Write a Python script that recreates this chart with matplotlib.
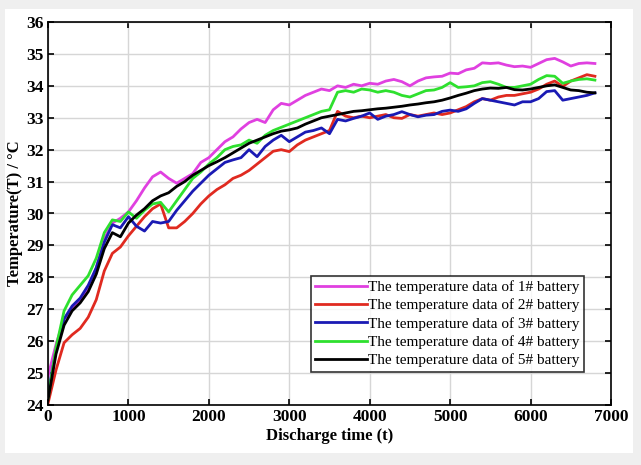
import matplotlib
matplotlib.use("Agg")
import matplotlib.pyplot as plt
from matplotlib.patches import FancyBboxPatch

time_s = list(range(0, 6900, 100))

temp_1 = [24.9, 25.9, 26.7, 27.0, 27.3, 27.6, 28.3, 29.2, 29.7, 29.85,
          30.05, 30.4, 30.8, 31.15, 31.3, 31.1, 30.95, 31.1, 31.25, 31.6,
          31.75, 32.0, 32.25, 32.4, 32.65, 32.85, 32.95, 32.85, 33.25, 33.45,
          33.4, 33.55, 33.7, 33.8, 33.9, 33.85, 34.0, 33.95, 34.05, 34.0,
          34.08, 34.05, 34.15, 34.2, 34.13, 34.0, 34.15, 34.25, 34.28, 34.3,
          34.4, 34.38, 34.5, 34.55, 34.72, 34.7, 34.72, 34.65, 34.6, 34.62,
          34.58, 34.7, 34.82, 34.86, 34.75, 34.62, 34.7, 34.72, 34.7]

temp_2 = [24.05, 25.1, 25.95, 26.2, 26.4, 26.75, 27.3, 28.2, 28.75, 28.95,
          29.3, 29.6, 29.9, 30.15, 30.3, 29.55, 29.55, 29.75, 30.0, 30.3,
          30.55, 30.75, 30.9, 31.1, 31.2, 31.35, 31.55, 31.75, 31.95, 32.0,
          31.94, 32.15, 32.3, 32.4, 32.5, 32.6, 33.2, 33.05, 33.0, 33.05,
          33.0, 33.05, 33.1, 33.0, 32.98, 33.1, 33.05, 33.1, 33.15, 33.1,
          33.15, 33.25, 33.35, 33.5, 33.6, 33.55, 33.65, 33.7, 33.7, 33.75,
          33.8, 33.9, 34.05, 34.15, 33.98, 34.15, 34.25, 34.35, 34.3]

temp_3 = [24.38, 25.7, 26.7, 27.1, 27.35, 27.75, 28.3, 29.1, 29.65, 29.55,
          29.9, 29.6, 29.45, 29.75, 29.7, 29.75, 30.1, 30.4, 30.7, 30.95,
          31.2, 31.4, 31.6, 31.68, 31.75, 32.0, 31.78, 32.1, 32.3, 32.45,
          32.25, 32.4, 32.55, 32.6, 32.68, 32.5, 32.95, 32.9, 32.98, 33.05,
          33.15, 32.95, 33.05, 33.1, 33.19, 33.1, 33.03, 33.08, 33.1, 33.2,
          33.24, 33.2, 33.28, 33.45, 33.6, 33.55, 33.5, 33.45, 33.4, 33.5,
          33.5, 33.6, 33.82, 33.85, 33.55, 33.6, 33.65, 33.7, 33.78]

temp_4 = [24.2, 25.8, 26.95, 27.45, 27.75, 28.05, 28.6, 29.4, 29.8, 29.75,
          30.05, 29.85, 30.1, 30.3, 30.35, 30.05, 30.4, 30.75, 31.1, 31.3,
          31.55, 31.75, 32.0, 32.1, 32.15, 32.3, 32.2, 32.45, 32.6, 32.7,
          32.8, 32.9, 33.0, 33.1, 33.2, 33.25, 33.8, 33.85, 33.8, 33.9,
          33.87, 33.8, 33.85, 33.8, 33.7, 33.65, 33.75, 33.85, 33.87, 33.95,
          34.1, 33.95, 33.97, 34.0, 34.1, 34.13, 34.05, 33.95, 33.95, 34.0,
          34.05, 34.2, 34.32, 34.3, 34.08, 34.15, 34.2, 34.22, 34.18]

temp_5 = [24.16, 25.6, 26.5, 26.95, 27.2, 27.55, 28.1, 28.9, 29.4, 29.27,
          29.7, 29.95, 30.15, 30.4, 30.55, 30.65, 30.85, 31.0, 31.2, 31.35,
          31.5, 31.62, 31.75, 31.9, 32.05, 32.2, 32.3, 32.4, 32.5, 32.58,
          32.62, 32.68, 32.8, 32.9, 33.0, 33.05, 33.1, 33.15, 33.2, 33.22,
          33.25, 33.28, 33.3, 33.33, 33.36, 33.4, 33.43, 33.47, 33.5, 33.55,
          33.62, 33.7, 33.77, 33.85, 33.9, 33.93, 33.92, 33.95, 33.88, 33.87,
          33.9, 33.95, 34.0, 34.03, 33.95, 33.87, 33.85, 33.8, 33.78]

series_labels = ["The temperature data of 1# battery",
                 "The temperature data of 2# battery",
                 "The temperature data of 3# battery",
                 "The temperature data of 4# battery",
                 "The temperature data of 5# battery"]
series_colors = ["#e040e0", "#e02a20", "#1a1ab4", "#2ee02e", "#000000"]
x_ticks = [0, 1000, 2000, 3000, 4000, 5000, 6000, 7000]
y_ticks = [24, 25, 26, 27, 28, 29, 30, 31, 32, 33, 34, 35, 36]

plt.rcParams['font.family'] = ['Liberation Serif', 'DejaVu Serif']

fig = plt.figure(figsize=(6.41, 4.65), dpi=100, facecolor="#efefef")
fig.patches.append(FancyBboxPatch((5 / 641, 12 / 465), 628 / 641, 444 / 465,
                                  boxstyle="square,pad=0", transform=fig.transFigure,
                                  facecolor="white", edgecolor="none", zorder=-10))
ax = fig.add_axes([48 / 641, 60 / 465, 563 / 641, 383 / 465])

for vals, lab, col in zip([temp_1, temp_2, temp_3, temp_4, temp_5], series_labels, series_colors):
    ax.plot(time_s, vals, color=col, lw=2.0, label=lab)

ax.set_xlim(0, 7000)
ax.set_ylim(24, 36)
ax.set_xticks(x_ticks)
ax.set_yticks(y_ticks)
ax.grid(True, color="#d6d6d6", lw=1.0)
ax.tick_params(direction="in", top=True, right=True, length=4, width=1.2,
               labelsize=12.5, pad=3)
for lbl in ax.get_xticklabels() + ax.get_yticklabels():
    lbl.set_fontweight("bold")
for sp in ax.spines.values():
    sp.set_linewidth(1.2)
ax.set_xlabel("Discharge time (t)", fontsize=12, fontweight="bold", labelpad=2)
ax.set_ylabel("Temperature(T) / °C", fontsize=12, fontweight="bold", labelpad=2)

leg = ax.legend(loc="lower right", bbox_to_anchor=(0.952, 0.087), fontsize=11,
                frameon=True, fancybox=False, handlelength=3.4, handletextpad=0.1,
                labelspacing=0.3, borderpad=0.28, borderaxespad=0)
leg.get_frame().set_edgecolor("black")
leg.get_frame().set_linewidth(1.2)

fig.savefig("out.png", dpi=100, facecolor=fig.get_facecolor())
